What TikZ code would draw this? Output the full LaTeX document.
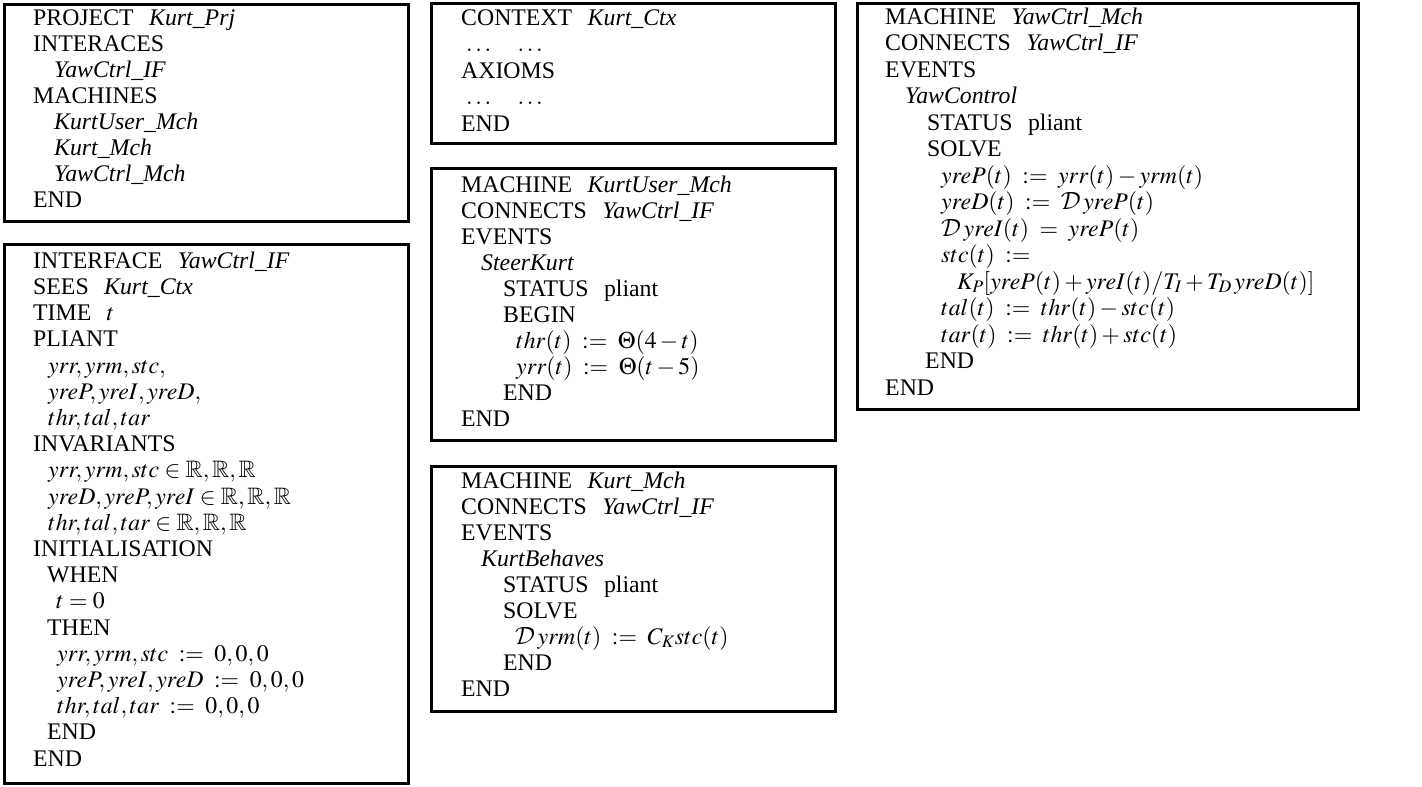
\documentclass[tikz,border=0pt]{standalone}
\usepackage{amssymb}
\usepackage{mathptmx}
\usepackage{fontspec}
\setmainfont{Liberation Serif}
\DeclareMathAlphabet{\mathcalcm}{OMS}{cmsy}{m}{n}
\newcommand{\nm}[1]{\textit{#1}}
\newcommand{\ind}[1]{\hspace*{#1pt}}
\newcommand{\gp}{\hspace{0.65em}}
\newcommand{\DD}{\mathcalcm{D}\,}
\newcommand{\asg}{\;:=\;}
\newcommand{\eqq}{\;=\;}
\newcommand{\st}{\rule{0pt}{17pt}}
\newcommand{\RRR}{\mathbb{R},\mathbb{R},\mathbb{R}}
\begin{document}
\begin{tikzpicture}[x=1pt,y=-1pt,
  frame/.style={draw=black, line width=2.6pt, fill=white, anchor=north west, inner sep=0pt},
  txt/.style={anchor=north west, inner sep=0pt, align=left}]
\fill[white] (0,0) rectangle (1422,787);
\useasboundingbox (0,0) rectangle (1422,787);

% frames
\node[frame, minimum width=404pt, minimum height=217pt] (f1) at (3,3) {};
\node[frame, minimum width=404pt, minimum height=539pt] (f2) at (3,243) {};
\node[frame, minimum width=404pt, minimum height=140pt] (f3) at (430,2) {};
\node[frame, minimum width=404pt, minimum height=272pt] (f4) at (430,167) {};
\node[frame, minimum width=404pt, minimum height=245pt] (f5) at (430,465) {};
\node[frame, minimum width=501pt, minimum height=406pt] (f6) at (856,2) {};

% texts
\node[txt, font=\fontsize{23.8}{26}\selectfont] (t1) at (33,8) {%
\st PROJECT\gp\nm{Kurt\_Prj}\\
INTERACES\\
\ind{21}\nm{YawCtrl\_IF}\\
MACHINES\\
\ind{21}\nm{KurtUser\_Mch}\\
\ind{21}\nm{Kurt\_Mch}\\
\ind{21}\nm{YawCtrl\_Mch}\\
END};

\node[txt, font=\fontsize{23.8}{26.2}\selectfont] (t2) at (33,251) {%
\st INTERFACE\gp\nm{YawCtrl\_IF}\\
SEES\gp\nm{Kurt\_Ctx}\\
TIME\gp$t$\\
PLIANT\\
\ind{15}$yrr,yrm,stc,$\\
\ind{15}$yreP,yreI,yreD,$\\
\ind{15}$thr,tal,tar$\\
INVARIANTS\\
\ind{15}$yrr,yrm,stc\in\RRR$\\
\ind{15}$yreD,yreP,yreI\in\RRR$\\
\ind{15}$thr,tal,tar\in\RRR$\\
INITIALISATION\\
\ind{14}WHEN\\
\ind{23}$t=0$\\
\ind{14}THEN\\
\ind{24}$yrr,yrm,stc\asg 0,0,0$\\
\ind{24}$yreP,yreI,yreD\asg 0,0,0$\\
\ind{24}$thr,tal,tar\asg 0,0,0$\\
\ind{14}END\\
END};

\node[txt, font=\fontsize{23.8}{26.5}\selectfont] (t3) at (461,8) {%
\st CONTEXT\gp\nm{Kurt\_Ctx}\\
\ind{5}$\ldots\quad\ldots$\\
AXIOMS\\
\ind{5}$\ldots\quad\ldots$\\
END};

\node[txt, font=\fontsize{23.8}{26}\selectfont] (t4) at (461,175) {%
\st MACHINE\gp\nm{KurtUser\_Mch}\\
CONNECTS\gp\nm{YawCtrl\_IF}\\
EVENTS\\
\ind{20}\nm{SteerKurt}\\
\ind{42}STATUS\gp pliant\\
\ind{42}BEGIN\\
\ind{55}$thr(t)\asg\Theta(4-t)$\\
\ind{55}$yrr(t)\asg\Theta(t-5)$\\
\ind{42}END\\
END};

\node[txt, font=\fontsize{23.8}{26}\selectfont] (t5) at (461,471) {%
\st MACHINE\gp\nm{Kurt\_Mch}\\
CONNECTS\gp\nm{YawCtrl\_IF}\\
EVENTS\\
\ind{20}\nm{KurtBehaves}\\
\ind{42}STATUS\gp pliant\\
\ind{42}SOLVE\\
\ind{54}$\DD yrm(t)\asg C_K stc(t)$\\
\ind{42}END\\
END};

\node[txt, font=\fontsize{23.8}{26.5}\selectfont] (t6) at (885,7) {%
\st MACHINE\gp\nm{YawCtrl\_Mch}\\
CONNECTS\gp\nm{YawCtrl\_IF}\\
EVENTS\\
\ind{20}\nm{YawControl}\\
\ind{42}STATUS\gp pliant\\
\ind{42}SOLVE\\
\ind{56}$yreP(t)\asg yrr(t)-yrm(t)$\\
\ind{56}$yreD(t)\asg \DD yreP(t)$\\
\ind{56}$\DD yreI(t)\eqq yreP(t)$\\
\ind{56}$stc(t)\asg$\\
\ind{72}$K_P[yreP(t)+yreI(t)/T_I+T_D\,yreD(t)]$\\
\ind{56}$tal(t)\asg thr(t)-stc(t)$\\
\ind{56}$tar(t)\asg thr(t)+stc(t)$\\
\ind{40}END\\
END};
\end{tikzpicture}
\end{document}
